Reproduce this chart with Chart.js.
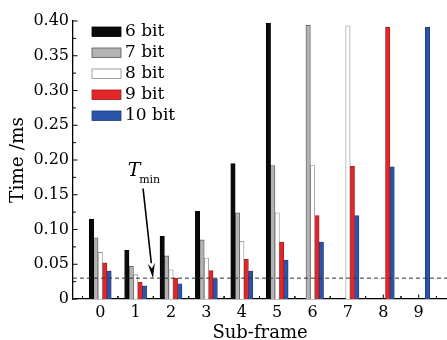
<!DOCTYPE html>
<html>
<head>
<meta charset="utf-8">
<script src="https://cdn.jsdelivr.net/npm/chart.js@4/dist/chart.umd.min.js"></script>
<style>
  html, body { margin: 0; padding: 0; background: #fff; }
  #wrap { width: 447px; height: 340px; position: relative; }
</style>
</head>
<body>
<div id="wrap"><canvas id="c" width="447" height="340"></canvas></div>
<script>
// ---- data ----
const subFrames = [0, 1, 2, 3, 4, 5, 6, 7, 8, 9];
const seriesNames = ['6 bit', '7 bit', '8 bit', '9 bit', '10 bit'];
const bit6  = [0.115, 0.070, 0.090, 0.126, 0.195, 0.397, null,  null,  null,  null];
const bit7  = [0.088, 0.047, 0.062, 0.085, 0.124, 0.192, 0.394, null,  null,  null];
const bit8  = [0.067, 0.035, 0.042, 0.059, 0.083, 0.124, 0.192, 0.393, null,  null];
const bit9  = [0.052, 0.024, 0.030, 0.041, 0.057, 0.082, 0.120, 0.191, 0.391, null];
const bit10 = [0.040, 0.019, 0.022, 0.029, 0.040, 0.056, 0.082, 0.120, 0.190, 0.391];
const yTicks = [0, 0.05, 0.10, 0.15, 0.20, 0.25, 0.30, 0.35, 0.40];
const yTickLabels = ['0', '0.05', '0.10', '0.15', '0.20', '0.25', '0.30', '0.35', '0.40'];
const xTickLabels = ['0', '1', '2', '3', '4', '5', '6', '7', '8', '9'];
const tMin = 0.03;

// ---- styles ----
const fills   = ['#0a0a0a', '#b3b3b3', '#ffffff', '#e4262b', '#2b55a8'];
const borders = ['#000000', '#555555', '#8a8a8a', '#9a1c1c', '#1f3a7a'];
const serif = '"DejaVu Serif", serif';

const seriesValues = [bit6, bit7, bit8, bit9, bit10];
const datasets = seriesValues.map((vals, i) => ({
  label: seriesNames[i],
  data: subFrames.map((x, j) => ({ x: x, y: vals[j] })),
  backgroundColor: fills[i],
  borderColor: borders[i],
  borderWidth: 0.8,
  barThickness: 4.4
}));

function line(ctx, x1, y1, x2, y2) {
  ctx.beginPath(); ctx.moveTo(x1, y1); ctx.lineTo(x2, y2); ctx.stroke();
}

const decor = {
  id: 'decor',
  beforeDatasetsDraw(chart) {
    const { ctx, chartArea: a, scales: { x, y } } = chart;
    ctx.save();
    ctx.strokeStyle = '#000';
    ctx.lineWidth = 1;
    // inward y ticks (major + minor)
    yTicks.forEach((v, i) => {
      const py = y.getPixelForValue(v);
      line(ctx, a.left, py, a.left + 4.5, py);
      if (i < yTicks.length - 1) {
        const pm = y.getPixelForValue((v + yTicks[i + 1]) / 2);
        line(ctx, a.left, pm, a.left + 3, pm);
      }
    });
    // inward x ticks (major at categories, minor between)
    subFrames.forEach(v => {
      const px = x.getPixelForValue(v);
      line(ctx, px, a.bottom, px, a.bottom - 4.5);
      const pm1 = x.getPixelForValue(v - 0.5);
      line(ctx, pm1, a.bottom, pm1, a.bottom - 3);
      const pm2 = x.getPixelForValue(v + 0.5);
      line(ctx, pm2, a.bottom, pm2, a.bottom - 3);
    });
    ctx.restore();
  },
  afterDatasetsDraw(chart) {
    const { ctx, chartArea: a, scales: { x, y } } = chart;
    ctx.save();
    // T_min dashed line
    ctx.strokeStyle = '#333';
    ctx.lineWidth = 1;
    ctx.setLineDash([4, 3]);
    const py = y.getPixelForValue(tMin);
    line(ctx, a.left, py, a.right, py);
    ctx.setLineDash([]);

    // arrow pointing to the T_min line
    const x1 = x.getPixelForValue(1.21), y1 = y.getPixelForValue(0.159);
    const x2 = x.getPixelForValue(1.49), y2 = y.getPixelForValue(tMin);
    const ang = Math.atan2(y2 - y1, x2 - x1);
    const hl = 15, hw = 3.6;
    const bx = x2 - hl * Math.cos(ang), by = y2 - hl * Math.sin(ang);
    ctx.strokeStyle = '#000';
    ctx.lineWidth = 1.6;
    line(ctx, x1, y1, bx, by);
    ctx.fillStyle = '#000';
    ctx.beginPath();
    ctx.moveTo(x2, y2);
    ctx.lineTo(bx + hw * Math.sin(ang), by - hw * Math.cos(ang));
    ctx.lineTo(bx + 0.35 * hl * Math.cos(ang), by + 0.35 * hl * Math.sin(ang));
    ctx.lineTo(bx - hw * Math.sin(ang), by + hw * Math.cos(ang));
    ctx.closePath();
    ctx.fill();

    // T_min label
    ctx.fillStyle = '#000';
    ctx.textBaseline = 'alphabetic';
    ctx.textAlign = 'left';
    ctx.font = 'italic 19px ' + serif;
    ctx.fillText('T', x.getPixelForValue(0.78), y.getPixelForValue(0.177));
    ctx.font = '11px ' + serif;
    ctx.fillText('min', x.getPixelForValue(1.10), y.getPixelForValue(0.1665));

    // legend (top-left inside plot)
    ctx.font = '17px ' + serif;
    ctx.textBaseline = 'middle';
    chart.data.datasets.forEach((ds, i) => {
      const bx0 = a.left + 19, by0 = a.top + 6 + i * 21;
      ctx.fillStyle = ds.backgroundColor;
      ctx.fillRect(bx0, by0, 29, 9.5);
      ctx.strokeStyle = ds.borderColor;
      ctx.lineWidth = 0.8;
      ctx.strokeRect(bx0, by0, 29, 9.5);
      ctx.fillStyle = '#000';
      ctx.fillText(ds.label, bx0 + 33, by0 + 5);
    });
    ctx.restore();
  }
};

new Chart(document.getElementById('c'), {
  type: 'bar',
  data: { datasets: datasets },
  options: {
    responsive: false,
    animation: false,
    events: [],
    layout: { padding: { top: 21, right: -15, left: 0, bottom: 0 } },
    plugins: { legend: { display: false }, tooltip: { enabled: false } },
    scales: {
      x: {
        type: 'linear',
        offset: false,
        min: -0.77,
        max: 9.8,
        grid: { display: false, drawTicks: false },
        border: { display: true, color: '#000', width: 1.3 },
        afterBuildTicks: s => { s.ticks = subFrames.map(v => ({ value: v })); },
        afterFit: s => { s.height = 41; },
        ticks: {
          padding: 4,
          color: '#000',
          font: { family: serif, size: 16 },
          callback: (v) => xTickLabels[subFrames.indexOf(v)]
        },
        title: {
          display: true,
          text: 'Sub-frame',
          color: '#000',
          font: { family: serif, size: 18, lineHeight: 1 },
          padding: { top: 0, bottom: -2 }
        }
      },
      y: {
        min: 0,
        max: 0.40,
        grid: { display: false, drawTicks: false },
        border: { display: true, color: '#000', width: 1.3 },
        afterBuildTicks: s => { s.ticks = yTicks.map(v => ({ value: v })); },
        afterFit: s => { s.width = 73; },
        ticks: {
          padding: 4,
          color: '#000',
          font: { family: serif, size: 16 },
          callback: (v) => yTickLabels[yTicks.findIndex(t => Math.abs(t - v) < 1e-9)]
        },
        title: {
          display: true,
          text: 'Time /ms',
          color: '#000',
          font: { family: serif, size: 18.5, lineHeight: 1.2 },
          padding: { top: 7, bottom: 0 }
        }
      }
    }
  },
  plugins: [decor]
});
</script>
</body>
</html>
